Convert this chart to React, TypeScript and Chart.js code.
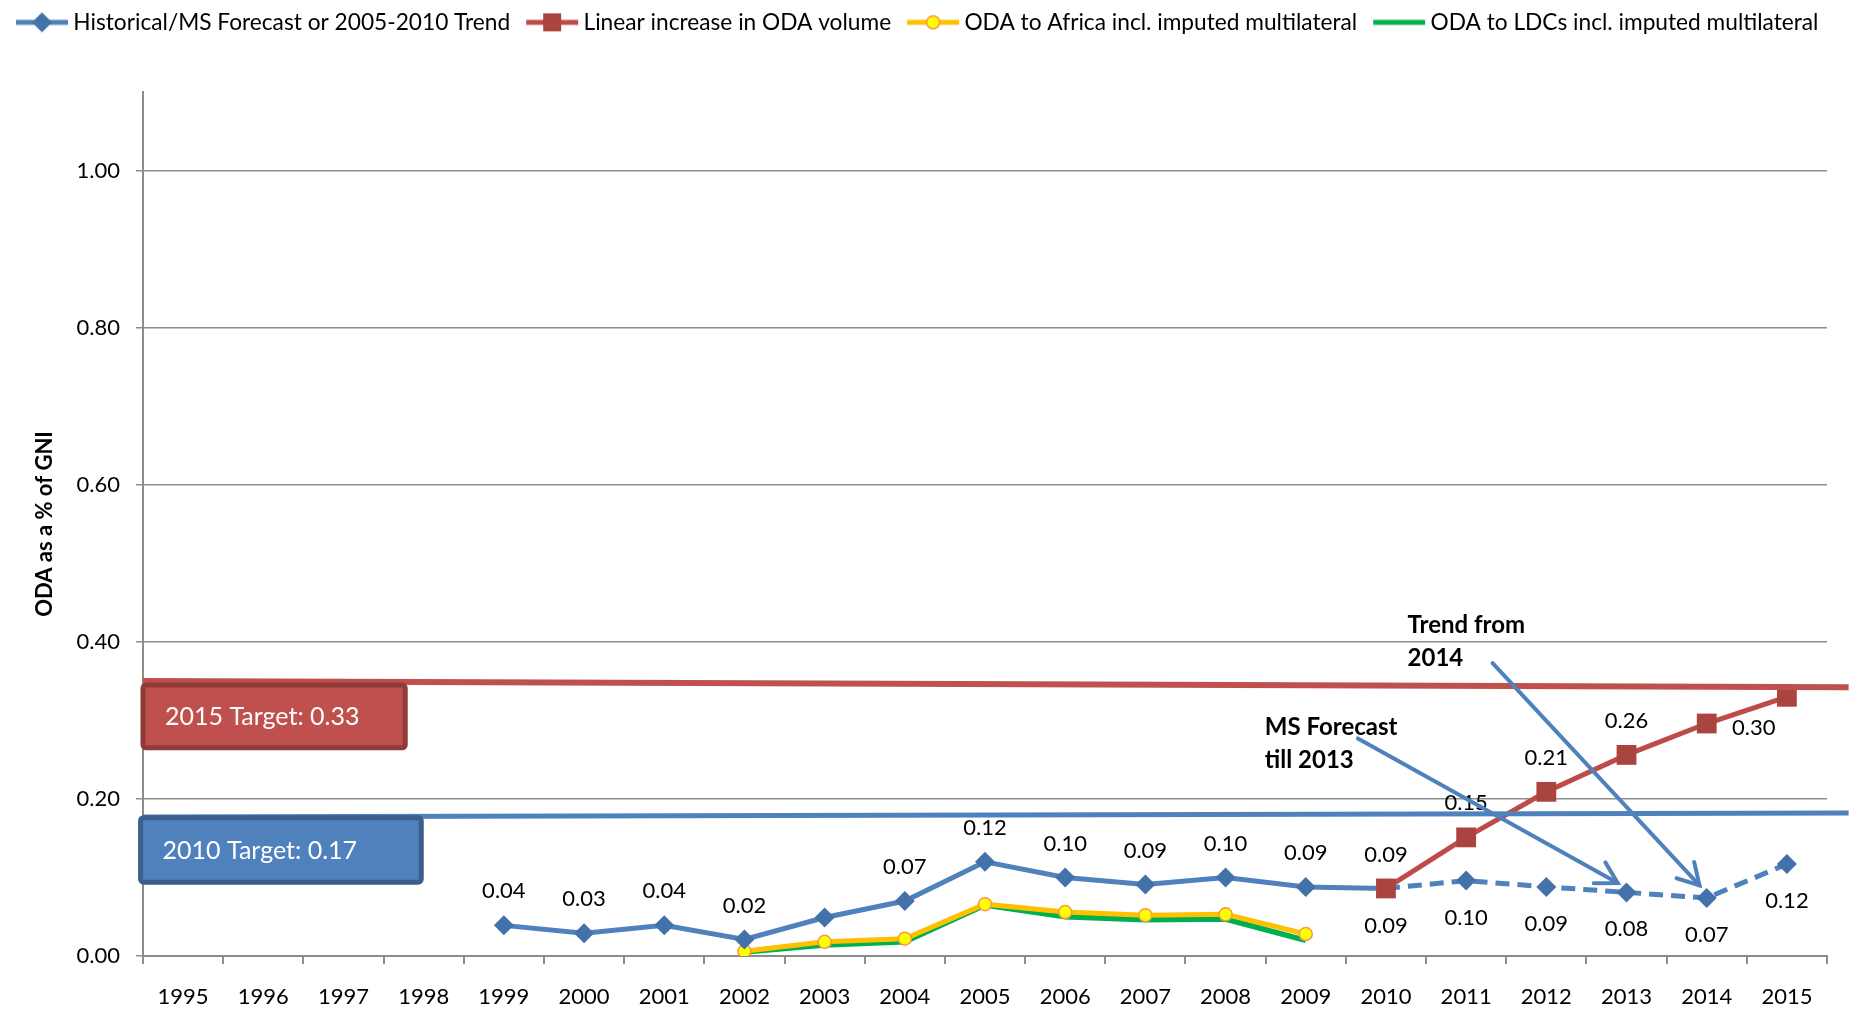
import React, { useEffect, useRef } from 'react';
import { Chart, registerables } from 'chart.js';

Chart.register(...registerables);

const FONT = 'Lato, "Open Sans", "Liberation Sans", sans-serif';

// ---------- data ----------
const years = ['1995', '1996', '1997', '1998', '1999', '2000', '2001', '2002', '2003', '2004', '2005', '2006', '2007', '2008', '2009', '2010', '2011', '2012', '2013', '2014', '2015'];
const historicalForecast = [null, null, null, null, 0.039, 0.029, 0.039, 0.021, 0.049, 0.070, 0.120, 0.100, 0.091, 0.100, 0.088, 0.086, 0.096, 0.088, 0.081, 0.074, 0.117];
const linearIncrease = [null, null, null, null, null, null, null, null, null, null, null, null, null, null, null, 0.086, 0.151, 0.209, 0.256, 0.296, 0.330];
const odaAfrica = [null, null, null, null, null, null, null, 0.006, 0.018, 0.022, 0.066, 0.056, 0.052, 0.053, 0.028, null, null, null, null, null, null];
const odaLdcs = [null, null, null, null, null, null, null, 0.005, 0.014, 0.018, 0.065, 0.050, 0.046, 0.047, 0.020, null, null, null, null, null, null];
const yTicks = [0, 0.2, 0.4, 0.6, 0.8, 1.0];
const seriesNames = [
  'Historical/MS Forecast or 2005-2010 Trend',
  'Linear increase in ODA volume',
  'ODA to Africa incl. imputed multilateral',
  'ODA to LDCs incl. imputed multilateral',
];
const yTitle = 'ODA as a % of GNI';

// data label placement per point (a = above, b = below, r = right)
const histLabelPos = ['', '', '', '', 'a', 'a', 'a', 'a', '', 'a', 'a', 'a', 'a', 'a', 'a', 'a', 'b', 'b', 'b', 'b', 'b'];
const linearLabelPos = ['', '', '', '', '', '', '', '', '', '', '', '', '', '', '', 'b', 'a', 'a', 'a', 'r', ''];

// annotation shapes in data units (x = category index, y = value)
const targetLines = [
  { x0: -0.5, y0: 0.350, x1: 20.77, y1: 0.342, color: '#C0504D', width: 6 },
  { x0: -0.5, y0: 0.177, x1: 20.77, y1: 0.182, color: '#4F81BD', width: 5 },
];
const targetBoxes = [
  { text: '2015 Target: 0.33', x0: -0.5, x1: 2.77, y0: 0.345, y1: 0.265, fill: '#C0504D', stroke: '#8E3B39' },
  { text: '2010 Target: 0.17', x0: -0.53, x1: 2.97, y0: 0.176, y1: 0.094, fill: '#4F81BD', stroke: '#3A5F8C' },
];
const noteTexts = [
  { lines: ['MS Forecast', 'till 2013'], x: 13.49, y: 0.281 },
  { lines: ['Trend from', '2014'], x: 15.27, y: 0.411 },
];
const arrows = [
  { x0: 14.65, y0: 0.277, x1: 17.89, y1: 0.093 },
  { x0: 16.33, y0: 0.373, x1: 18.91, y1: 0.090 },
];

// ---------- helpers ----------
function makeIcon(kind: string, line: string, fill: string, border: string): HTMLCanvasElement {
  const c = document.createElement('canvas');
  c.width = 56;
  c.height = 22;
  const g = c.getContext('2d') as CanvasRenderingContext2D;
  g.strokeStyle = line;
  g.lineWidth = 5;
  g.beginPath();
  g.moveTo(2, 11);
  g.lineTo(54, 11);
  g.stroke();
  const cx = 28, cy = 11;
  g.fillStyle = fill;
  if (kind === 'diamond') {
    g.beginPath();
    g.moveTo(cx - 10, cy); g.lineTo(cx, cy - 10); g.lineTo(cx + 10, cy); g.lineTo(cx, cy + 10);
    g.closePath();
    g.fill();
  } else if (kind === 'square') {
    g.fillRect(cx - 9, cy - 9, 18, 18);
  } else if (kind === 'circle') {
    g.beginPath();
    g.arc(cx, cy, 6.5, 0, Math.PI * 2);
    g.fill();
    g.strokeStyle = border;
    g.lineWidth = 1.5;
    g.stroke();
  }
  return c;
}

const labelPositions: (string[] | null)[] = [histLabelPos, linearLabelPos, null, null];

const overlayPlugin = {
  id: 'overlay',
  beforeInit(chart: any) {
    const lg = chart.legend;
    if (lg) {
      const origFit = lg.fit;
      lg.fit = function () {
        lg.maxWidth = 3000;
        origFit.call(lg);
        lg.height = 103;
      };
      const origDraw = lg.draw;
      lg.draw = function () {
        const r = lg.right;
        lg.right = 3000;
        origDraw.call(lg);
        lg.right = r;
      };
    }
  },
  afterDatasetsDraw(chart: any) {
    const ctx: CanvasRenderingContext2D = chart.ctx;
    const xs = chart.scales.x;
    const ys = chart.scales.y;
    const px = (v: number) => xs.getPixelForValue(v);
    const py = (v: number) => ys.getPixelForValue(v);

    // data labels
    ctx.save();
    ctx.font = `22px ${FONT}`;
    ctx.fillStyle = '#000';
    ctx.textAlign = 'center';
    ctx.textBaseline = 'middle';
    chart.data.datasets.forEach((ds: any, di: number) => {
      const pos = labelPositions[di];
      if (!pos) return;
      const meta = chart.getDatasetMeta(di);
      meta.data.forEach((pt: any, i: number) => {
        const v = ds.data[i];
        const p = pos[i];
        if (v == null || !p) return;
        let lx = pt.x, ly = pt.y;
        if (p === 'a') ly -= 34;
        else if (p === 'b') ly += 37;
        else if (p === 'r') { lx += 47; ly += 4; }
        ctx.fillText(v.toFixed(2), lx, ly);
      });
    });
    ctx.restore();

    // target lines
    ctx.save();
    targetLines.forEach((l) => {
      ctx.strokeStyle = l.color;
      ctx.lineWidth = l.width;
      ctx.beginPath();
      ctx.moveTo(px(l.x0), py(l.y0));
      ctx.lineTo(px(l.x1), py(l.y1));
      ctx.stroke();
    });
    ctx.restore();

    // target boxes
    ctx.save();
    targetBoxes.forEach((b) => {
      const x0 = px(b.x0), x1 = px(b.x1), y0 = py(b.y0), y1 = py(b.y1);
      ctx.beginPath();
      (ctx as any).roundRect(x0, y0, x1 - x0, y1 - y0, 3);
      ctx.fillStyle = b.fill;
      ctx.fill();
      ctx.lineWidth = 5;
      ctx.strokeStyle = b.stroke;
      ctx.stroke();
      ctx.fillStyle = '#fff';
      ctx.font = `25px ${FONT}`;
      ctx.textAlign = 'left';
      ctx.textBaseline = 'middle';
      ctx.fillText(b.text, x0 + 22, (y0 + y1) / 2 + 1);
    });
    ctx.restore();

    // arrows
    ctx.save();
    ctx.strokeStyle = '#4F81BD';
    ctx.lineWidth = 4;
    ctx.lineCap = 'round';
    arrows.forEach((a) => {
      const x0 = px(a.x0), y0 = py(a.y0), x1 = px(a.x1), y1 = py(a.y1);
      ctx.beginPath();
      ctx.moveTo(x0, y0);
      ctx.lineTo(x1, y1);
      ctx.stroke();
      const ang = Math.atan2(y1 - y0, x1 - x0);
      const L = 24, A = Math.PI / 6;
      ctx.beginPath();
      ctx.moveTo(x1 - L * Math.cos(ang - A), y1 - L * Math.sin(ang - A));
      ctx.lineTo(x1, y1);
      ctx.lineTo(x1 - L * Math.cos(ang + A), y1 - L * Math.sin(ang + A));
      ctx.stroke();
    });
    ctx.restore();

    // note texts
    ctx.save();
    ctx.font = `bold 24px ${FONT}`;
    ctx.fillStyle = '#000';
    ctx.textAlign = 'left';
    ctx.textBaseline = 'alphabetic';
    noteTexts.forEach((t) => {
      t.lines.forEach((s, i) => ctx.fillText(s, px(t.x), py(t.y) + i * 33));
    });
    ctx.restore();
  },
};

export default function App() {
  const ref = useRef<HTMLCanvasElement | null>(null);

  useEffect(() => {
    document.body.style.margin = '0';
    document.body.style.overflow = 'hidden';
    const canvas = ref.current;
    if (!canvas) return;
    const icons = [
      makeIcon('diamond', '#4F81BD', '#4372AB', ''),
      makeIcon('square', '#BE4B48', '#A9443F', ''),
      makeIcon('circle', '#FFC000', '#FFFF00', '#F79646'),
      makeIcon('none', '#00B050', '', ''),
    ];
    const gridColor = '#8C8C8C';
    const chart = new Chart(canvas, {
      type: 'line',
      data: {
        labels: years,
        datasets: [
          {
            label: seriesNames[0],
            data: historicalForecast,
            borderColor: '#4F81BD',
            backgroundColor: '#4372AB',
            borderWidth: 5,
            pointStyle: 'rectRot',
            pointRadius: 10,
            pointBorderWidth: 0,
            pointBackgroundColor: '#4372AB',
            segment: {
              borderDash: (c: any) => (c.p0DataIndex >= 15 ? [14, 8] : undefined),
            },
            order: 1,
          } as any,
          {
            label: seriesNames[1],
            data: linearIncrease,
            borderColor: '#BE4B48',
            backgroundColor: '#A9443F',
            borderWidth: 5,
            pointStyle: 'rect',
            pointRadius: 14,
            pointBorderWidth: 0,
            pointBackgroundColor: '#A9443F',
            order: 0,
          },
          {
            label: seriesNames[2],
            data: odaAfrica,
            borderColor: '#FFC000',
            backgroundColor: '#FFFF00',
            borderWidth: 5,
            pointStyle: 'circle',
            pointRadius: 6.5,
            pointBorderWidth: 1.5,
            pointBorderColor: '#F79646',
            pointBackgroundColor: '#FFFF00',
            order: 2,
          },
          {
            label: seriesNames[3],
            data: odaLdcs,
            borderColor: '#00B050',
            backgroundColor: '#00B050',
            borderWidth: 5.5,
            pointRadius: 0,
            order: 3,
          },
        ],
      },
      options: {
        animation: false,
        responsive: false,
        devicePixelRatio: 1,
        layout: { padding: { left: 0, right: 31, top: -11, bottom: 0 } },
        plugins: {
          tooltip: { enabled: false },
          legend: {
            position: 'top',
            align: 'start',
            labels: {
              usePointStyle: true,
              pointStyleWidth: 40,
              font: { family: FONT, size: 22.7 },
              color: '#000',
              padding: 22,
              generateLabels: (ch: any) =>
                ch.data.datasets.map((ds: any, i: number) => ({
                  text: ds.label,
                  pointStyle: icons[i],
                  datasetIndex: i,
                  hidden: false,
                  lineWidth: 0,
                  fillStyle: 'transparent',
                  strokeStyle: 'transparent',
                  fontColor: '#000',
                })),
            },
          },
        },
        scales: {
          x: {
            type: 'category',
            offset: true,
            grid: { offset: true, drawOnChartArea: false, drawTicks: true, tickLength: 8, color: gridColor, lineWidth: 2 },
            border: { color: gridColor, width: 2 },
            ticks: { font: { family: FONT, size: 22 }, color: '#000', padding: 20, maxRotation: 0, autoSkip: false },
            afterFit: (s: any) => { s.height = 55; },
          },
          y: {
            type: 'linear',
            min: 0,
            max: 1.1,
            afterBuildTicks: (s: any) => { s.ticks = yTicks.map((v) => ({ value: v })); },
            grid: { color: gridColor, lineWidth: 1.5, tickLength: 7 },
            border: { color: gridColor, width: 2 },
            ticks: {
              font: { family: FONT, size: 22 },
              color: '#000',
              padding: 16,
              callback: (v: any) => Number(v).toFixed(2),
            },
            title: {
              display: true,
              text: yTitle,
              font: { family: FONT, size: 22, weight: 'bold' },
              color: '#000',
              padding: { top: 32, bottom: 0 },
            },
            afterFit: (s: any) => { s.width = 143; },
          },
        },
      } as any,
      plugins: [overlayPlugin],
    });
    return () => chart.destroy();
  }, []);

  return (
    <div style={{ width: 1858, height: 1011, background: '#fff' }}>
      <canvas ref={ref} width={1858} height={1011} style={{ display: 'block' }} />
    </div>
  );
}
